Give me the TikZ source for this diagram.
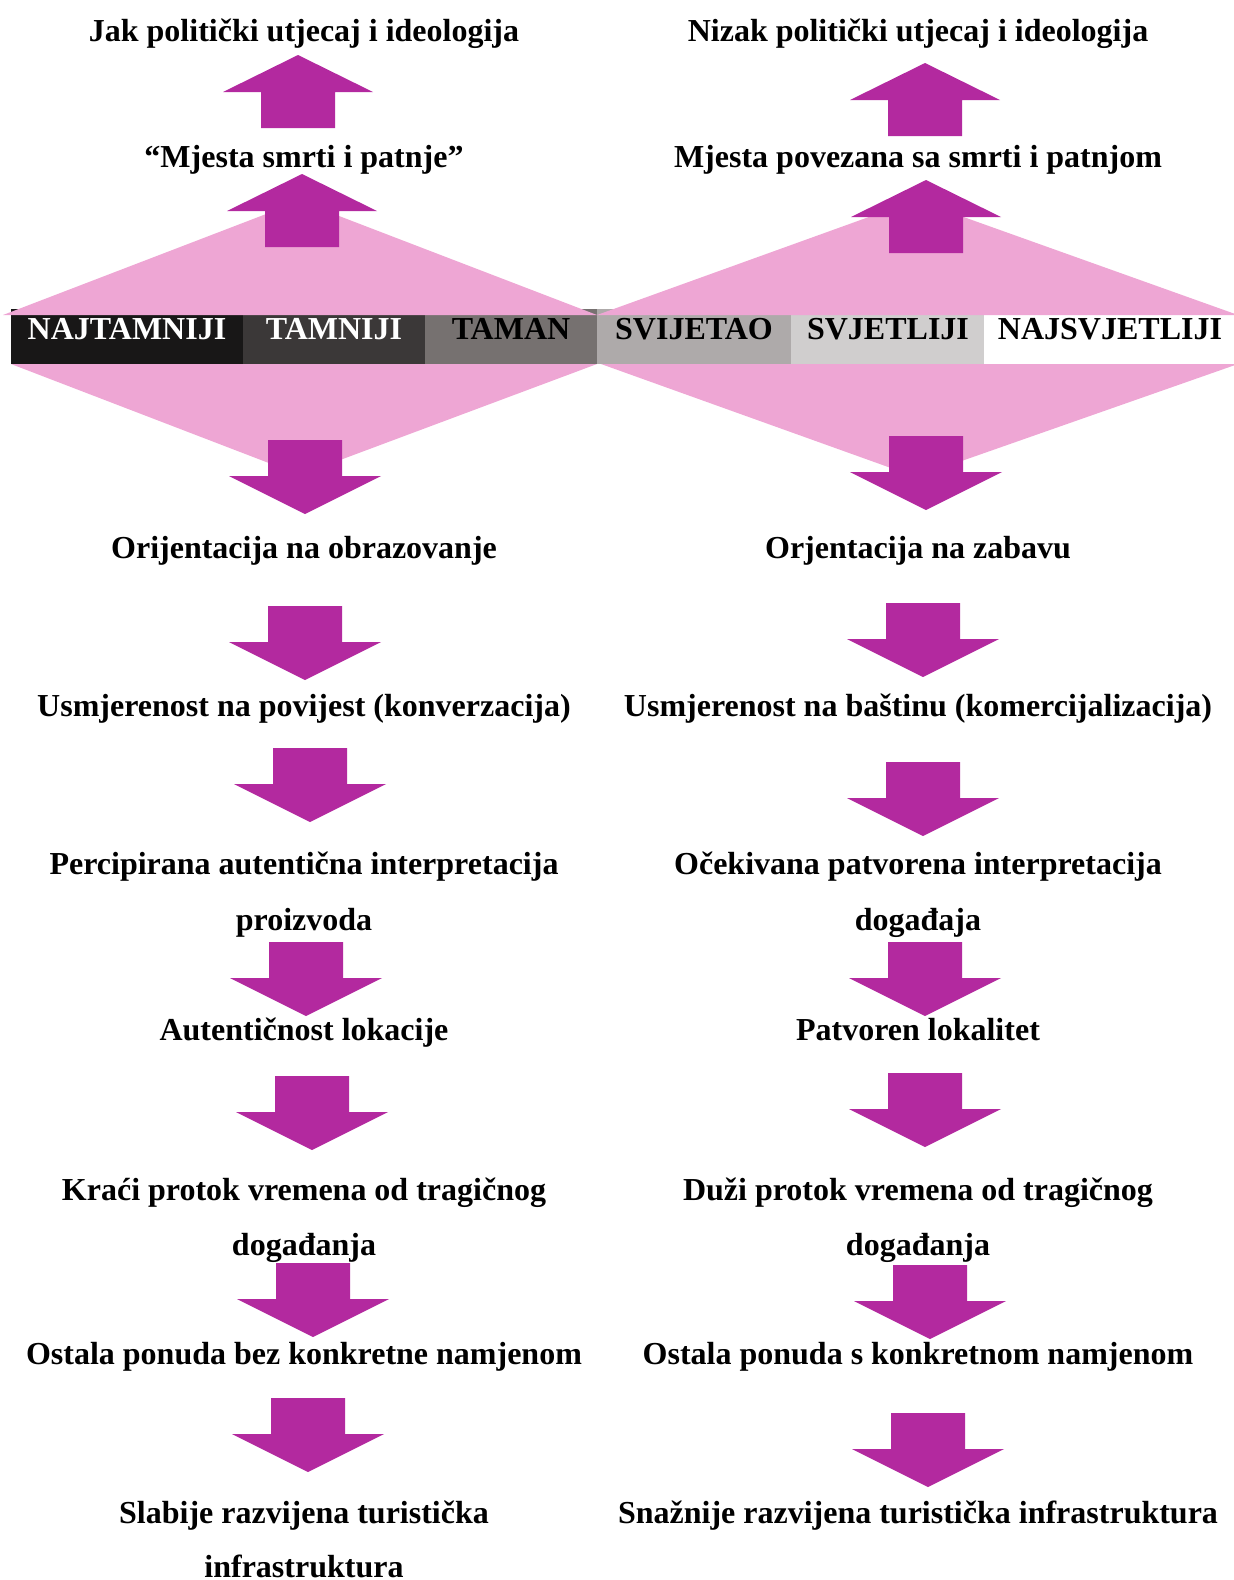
\documentclass[tikz,border=0pt]{standalone}
\usepackage{fontspec}
\setmainfont{Liberation Serif}
\definecolor{arrowc}{HTML}{B3299F}
\definecolor{pinkc}{HTML}{EEA6D4}
\definecolor{segA}{HTML}{181717}
\definecolor{segB}{HTML}{3B3838}
\definecolor{segC}{HTML}{767170}
\definecolor{segD}{HTML}{AEAAAA}
\definecolor{segE}{HTML}{D0CECE}
\definecolor{segF}{HTML}{FFFFFF}
\begin{document}
\begin{tikzpicture}[x=0.5pt,y=-0.5pt,
  txt/.style={font=\bfseries\fontsize{16}{28}\selectfont, anchor=base, inner sep=0pt, text=black},
  wtxt/.style={txt, text=white},
  darrow/.pic={\fill[arrowc] (-37,0) -- (37,0) -- (37,36) -- (76,36) -- (0,74) -- (-76,36) -- (-37,36) -- cycle;},
  uarrow/.pic={\fill[arrowc] (-37,0) -- (37,0) -- (37,-36) -- (75,-36) -- (0,-73) -- (-75,-36) -- (-37,-36) -- cycle;}
]
\useasboundingbox (0,0) rectangle (1234,1580);

% bar segments
\fill[segA] (11,309) rectangle (243,364);
\fill[segB] (243,309) rectangle (425,364);
\fill[segC] (425,309) rectangle (597,364);
\fill[segD] (597,309) rectangle (791,364);
\fill[segE] (791,309) rectangle (984,364);
\fill[segF] (984,309) rectangle (1234,364);

% pink diamonds
\fill[pinkc] (3,315) -- (300,201) -- (597,315) -- cycle;
\fill[pinkc] (11,364) -- (300,475) -- (597,364) -- cycle;
\fill[pinkc] (597,315) -- (916,200) -- (1238,315) -- cycle;
\fill[pinkc] (601,364) -- (916,477) -- (1238,364) -- cycle;

% bar labels
\node[wtxt] (b1) at (127,339) {NAJTAMNIJI};
\node[wtxt] (b2) at (334,339) {TAMNIJI};
\node[txt] (b3) at (511,339) {TAMAN};
\node[txt] (b4) at (694,339) {SVIJETAO};
\node[txt] (b5) at (888,339) {SVJETLIJI};
\node[txt] (b6) at (1110,339) {NAJSVJETLIJI};

% up arrows
\pic (lu1) at (298,128) {uarrow};
\pic (lu2) at (302,247) {uarrow};
\pic (ru1) at (925,136) {uarrow};
\pic (ru2) at (926,253) {uarrow};

% down arrows left
\pic (ld1) at (305,440) {darrow};
\pic (ld2) at (305,606) {darrow};
\pic (ld3) at (310,748) {darrow};
\pic (ld4) at (306,942) {darrow};
\pic (ld5) at (312,1076) {darrow};
\pic (ld6) at (313,1263) {darrow};
\pic (ld7) at (308,1398) {darrow};

% down arrows right
\pic (rd1) at (926,436) {darrow};
\pic (rd2) at (923,603) {darrow};
\pic (rd3) at (923,762) {darrow};
\pic (rd4) at (925,942) {darrow};
\pic (rd5) at (925,1073) {darrow};
\pic (rd6) at (930,1265) {darrow};
\pic (rd7) at (928,1413) {darrow};

% left column texts
\node[txt] (l0) at (304,41) {Jak politički utjecaj i ideologija};
\node[txt] (l1) at (304,167) {“Mjesta smrti i patnje”};
\node[txt] (l2) at (304,558) {Orijentacija na obrazovanje};
\node[txt] (l3) at (304,716) {Usmjerenost na povijest (konverzacija)};
\node[txt] (l4a) at (304,874) {Percipirana autentična interpretacija};
\node[txt] (l4b) at (304,930) {proizvoda};
\node[txt] (l5) at (304,1040) {Autentičnost lokacije};
\node[txt] (l6a) at (304,1200) {Kraći protok vremena od tragičnog};
\node[txt] (l6b) at (304,1255) {događanja};
\node[txt] (l7) at (304,1364) {Ostala ponuda bez konkretne namjenom};
\node[txt] (l8a) at (304,1523) {Slabije razvijena turistička};
\node[txt] (l8b) at (304,1577) {infrastruktura};

% right column texts
\node[txt] (r0) at (918,41) {Nizak politički utjecaj i ideologija};
\node[txt] (r1) at (918,167) {Mjesta povezana sa smrti i patnjom};
\node[txt] (r2) at (918,558) {Orjentacija na zabavu};
\node[txt] (r3) at (918,716) {Usmjerenost na baštinu (komercijalizacija)};
\node[txt] (r4a) at (918,874) {Očekivana patvorena interpretacija};
\node[txt] (r4b) at (918,930) {događaja};
\node[txt] (r5) at (918,1040) {Patvoren lokalitet};
\node[txt] (r6a) at (918,1200) {Duži protok vremena od tragičnog};
\node[txt] (r6b) at (918,1255) {događanja};
\node[txt] (r7) at (918,1364) {Ostala ponuda s konkretnom namjenom};
\node[txt] (r8) at (918,1523) {Snažnije razvijena turistička infrastruktura};
\end{tikzpicture}
\end{document}
